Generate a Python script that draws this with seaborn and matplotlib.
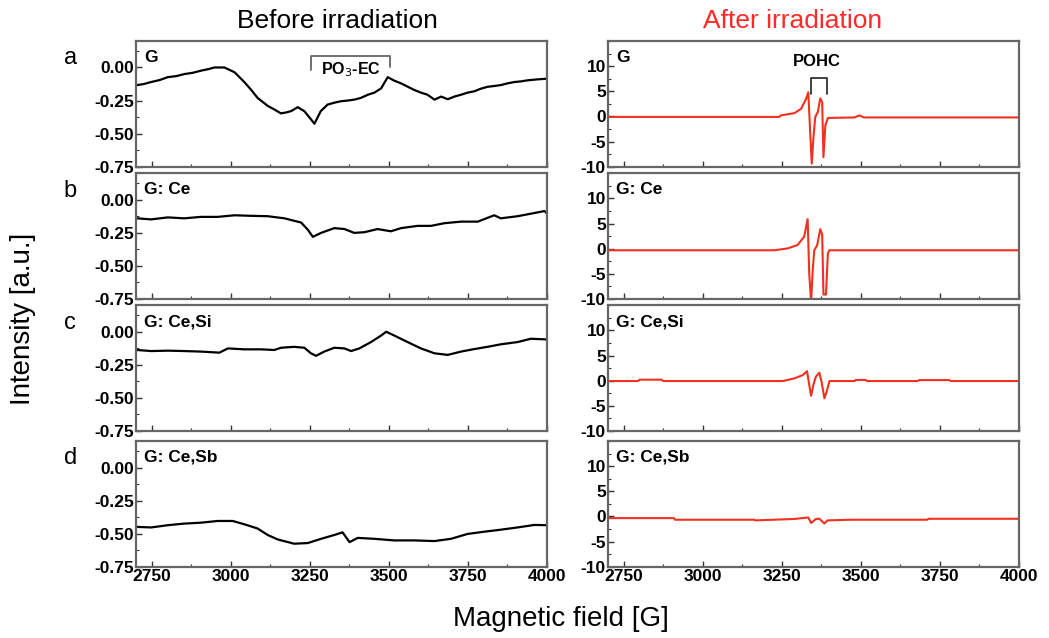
import pandas as pd
import matplotlib.pyplot as plt
import seaborn as sns
from matplotlib.ticker import MultipleLocator

sns.set_theme(style="white")
plt.rcParams['font.family'] = ['Liberation Sans', 'DejaVu Sans']
plt.rcParams['axes.unicode_minus'] = False
plt.rcParams['text.color'] = 'black'
plt.rcParams['xtick.color'] = 'black'
plt.rcParams['ytick.color'] = 'black'

# muestras
muestras = ["G", "G: Ce", "G: Ce,Si", "G: Ce,Sb"]
letras = ["a", "b", "c", "d"]

# antes de irradiar (campo [G], intensidad [u.a.])
x_g_antes = [2704, 2725, 2748, 2775, 2801, 2828, 2853, 2880, 2906, 2930, 2948, 2980, 3012, 3043, 3065,
             3085, 3117, 3140, 3159, 3175, 3191, 3212, 3233, 3250, 3265, 3285, 3307, 3330, 3349, 3370,
             3391, 3412, 3434, 3455, 3476, 3497, 3518, 3539, 3560, 3581, 3602, 3623, 3645, 3666, 3687,
             3708, 3729, 3750, 3771, 3792, 3813, 3834, 3855, 3876, 3898, 3919, 3940, 3970, 4000]
y_g_antes = [-0.133, -0.125, -0.11, -0.095, -0.073, -0.065, -0.05, -0.04, -0.024, -0.012, 0.0, 0.0, -0.036, -0.11, -0.17,
             -0.23, -0.29, -0.32, -0.347, -0.34, -0.33, -0.30, -0.33, -0.38, -0.425, -0.33, -0.28, -0.265, -0.255, -0.25,
             -0.243, -0.23, -0.206, -0.19, -0.158, -0.073, -0.10, -0.12, -0.145, -0.17, -0.19, -0.206, -0.243, -0.22, -0.24,
             -0.22, -0.206, -0.19, -0.18, -0.16, -0.146, -0.14, -0.133, -0.12, -0.11, -0.105, -0.097, -0.09, -0.085]

x_ce_antes = [2704, 2748, 2801, 2853, 2906, 2959, 3012, 3064, 3117, 3170, 3223, 3244, 3260, 3286, 3328,
              3360, 3391, 3423, 3465, 3507, 3539, 3592, 3634, 3676, 3729, 3782, 3834, 3855, 3908, 3961,
              3993, 4000]
y_ce_antes = [-0.14, -0.148, -0.133, -0.14, -0.129, -0.129, -0.117, -0.121, -0.124, -0.14, -0.172, -0.226, -0.28, -0.25, -0.214,
              -0.221, -0.25, -0.245, -0.221, -0.238, -0.214, -0.197, -0.197, -0.177, -0.165, -0.165, -0.117, -0.14, -0.124, -0.1,
              -0.085, -0.1]

x_si_antes = [2704, 2748, 2801, 2853, 2906, 2964, 2991, 3043, 3096, 3138, 3159, 3201, 3233, 3254, 3270,
              3296, 3328, 3360, 3381, 3407, 3444, 3476, 3492, 3518, 3560, 3602, 3645, 3687, 3729, 3771,
              3813, 3855, 3908, 3950, 4000]
y_si_antes = [-0.138, -0.146, -0.143, -0.146, -0.15, -0.158, -0.126, -0.133, -0.133, -0.138, -0.121, -0.114, -0.121, -0.163, -0.182,
              -0.15, -0.121, -0.126, -0.146, -0.126, -0.078, -0.029, 0.0, -0.029, -0.078, -0.126, -0.163, -0.175, -0.15, -0.131,
              -0.114, -0.095, -0.078, -0.053, -0.058]

x_sb_antes = [2704, 2748, 2801, 2853, 2906, 2959, 3006, 3043, 3085, 3117, 3149, 3201, 3244, 3286, 3328,
              3354, 3376, 3402, 3455, 3518, 3581, 3645, 3697, 3750, 3803, 3855, 3908, 3961, 4000]
y_sb_antes = [-0.449, -0.453, -0.436, -0.424, -0.417, -0.404, -0.404, -0.429, -0.461, -0.51, -0.544, -0.576, -0.571, -0.539, -0.51,
              -0.49, -0.564, -0.532, -0.539, -0.551, -0.551, -0.556, -0.539, -0.502, -0.485, -0.47, -0.453, -0.434, -0.436]

# despues de irradiar
x_g_desp = [2700, 3242, 3247, 3290, 3311, 3327, 3334, 3340, 3345, 3350, 3356, 3364, 3372, 3378, 3382,
            3388, 3396, 3480, 3496, 3510, 4000]
y_g_desp = [-0.1, -0.1, 0.2, 0.66, 1.5, 3.5, 4.8, -3.1, -9.4, -4.4, -0.1, 0.86, 3.6, 2.8, -8.1,
            -1.8, -0.3, -0.2, 0.2, -0.2, -0.2]

x_ce_desp = [2700, 3226, 3269, 3300, 3321, 3332, 3337, 3343, 3348, 3353, 3362, 3372, 3378, 3382, 3390,
             3396, 3401, 4000]
y_ce_desp = [-0.3, -0.3, 0.07, 0.74, 2.4, 5.9, -5.0, -10.6, -4.3, -0.3, 0.7, 3.9, 2.8, -9.1, -9.1,
             -0.9, -0.3, -0.3]

x_si_desp = [2700, 2795, 2800, 2870, 2875, 3253, 3290, 3316, 3330, 3337, 3343, 3350, 3358, 3369, 3376,
             3385, 3392, 3401, 3480, 3485, 3515, 3520, 3680, 3685, 3780, 3785, 4000]
y_si_desp = [-0.07, -0.07, 0.2, 0.2, -0.07, -0.07, 0.46, 1.1, 1.9, -0.85, -3.0, -0.85, 0.8, 1.6, -0.2,
             -3.5, -2.2, -0.07, -0.07, 0.15, 0.15, -0.07, -0.07, 0.12, 0.12, -0.07, -0.07]

x_sb_desp = [2700, 2909, 2912, 3163, 3166, 3290, 3334, 3343, 3358, 3369, 3385, 3395, 3470, 3710, 3715, 4000]
y_sb_desp = [-0.33, -0.33, -0.65, -0.65, -0.78, -0.5, -0.2, -1.3, -0.5, -0.45, -1.4, -0.78, -0.65, -0.65, -0.46, -0.46]

antes = [(x_g_antes, y_g_antes), (x_ce_antes, y_ce_antes), (x_si_antes, y_si_antes), (x_sb_antes, y_sb_antes)]
despues = [(x_g_desp, y_g_desp), (x_ce_desp, y_ce_desp), (x_si_desp, y_si_desp), (x_sb_desp, y_sb_desp)]

rojo = "#f2301e"
marco = "#666666"

fig = plt.figure(figsize=(10.49, 6.38), dpi=100)

bottoms = [0.7387, 0.5313, 0.3245, 0.1117]
alto = 0.197
izq = [0.1296, 0.5796]
ancho = 0.3915


def estilo(ax, fila):
    ax.set_xlim(2700, 4000)
    ax.xaxis.set_major_locator(MultipleLocator(250))
    ax.xaxis.set_minor_locator(MultipleLocator(125))
    ax.tick_params(which="both", direction="in", bottom=True, left=True, top=False, right=False,
                   color="#333333")
    ax.tick_params(which="major", length=4, width=1, labelsize=12.5, pad=1.5)
    ax.tick_params(which="minor", length=2, width=0.8)
    for s in ax.spines.values():
        s.set_color(marco)
        s.set_linewidth(1.6)
    ax.set_xlabel("")
    ax.set_ylabel("")
    for lab in ax.get_xticklabels() + ax.get_yticklabels():
        lab.set_fontweight("bold")
    if fila < 3:
        ax.set_xticklabels([])


for i in range(4):
    # columna izquierda
    ax = fig.add_axes([izq[0], bottoms[i], ancho, alto])
    df = pd.DataFrame({"campo": antes[i][0], "int": antes[i][1]})
    sns.lineplot(data=df, x="campo", y="int", ax=ax, color="black", linewidth=1.6, sort=False)
    ax.set_ylim(-0.75, 0.2)
    ax.set_yticks([0.0, -0.25, -0.5, -0.75])
    ax.set_yticklabels(["0.00", "-0.25", "-0.50", "-0.75"])
    ax.yaxis.set_minor_locator(MultipleLocator(0.125))
    estilo(ax, i)
    ax.text(0.02, 0.93, muestras[i], transform=ax.transAxes, fontsize=12.5, fontweight="bold",
            va="top", ha="left")
    fig.text(0.067, bottoms[i] + alto - 0.027, letras[i], fontsize=17, ha="center", va="center")
    if i == 0:
        ax.plot([3255, 3255, 3505, 3505], [-0.02, 0.085, 0.085, 0.0], color=marco, lw=1.3)
        ax.text(3380, -0.02, "PO$_3$-EC", fontsize=11.5, fontweight="bold", ha="center", va="center")

    # columna derecha
    ax = fig.add_axes([izq[1], bottoms[i], ancho, alto])
    df = pd.DataFrame({"campo": despues[i][0], "int": despues[i][1]})
    sns.lineplot(data=df, x="campo", y="int", ax=ax, color=rojo, linewidth=1.5, sort=False)
    ax.set_ylim(-10, 15)
    ax.set_yticks([10, 5, 0, -5, -10])
    ax.set_yticklabels(["10", "5", "0", "-5", "-10"])
    ax.yaxis.set_minor_locator(MultipleLocator(2.5))
    estilo(ax, i)
    ax.text(0.02, 0.93, muestras[i], transform=ax.transAxes, fontsize=12.5, fontweight="bold",
            va="top", ha="left")
    if i == 0:
        ax.plot([3343, 3343, 3392, 3392], [4.5, 7.6, 7.6, 4.5], color="#333333", lw=1.3)
        ax.text(3360, 11, "POHC", fontsize=12, fontweight="bold", ha="center", va="center")

fig.text(0.322, 0.967, "Before irradiation", fontsize=19, ha="center", va="center", color="black")
fig.text(0.756, 0.967, "After irradiation", fontsize=19, ha="center", va="center", color="#ff2a2a")
fig.text(0.022, 0.5, "Intensity [a.u.]", fontsize=20, rotation=90, ha="center", va="center")
fig.text(0.535, 0.03, "Magnetic field [G]", fontsize=20, ha="center", va="center")

fig.savefig("out.png", dpi=100)
